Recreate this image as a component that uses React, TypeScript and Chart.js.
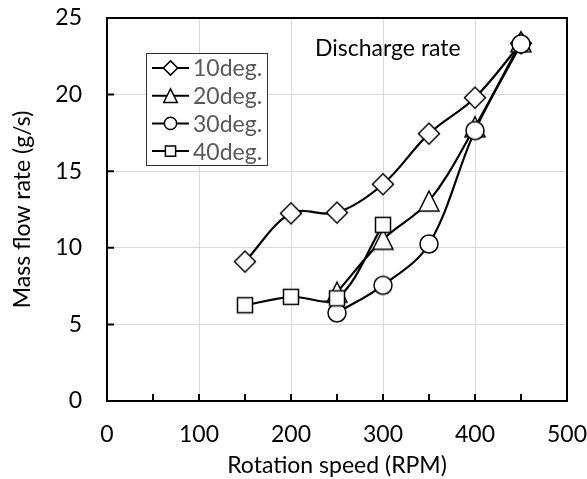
import React, { useEffect, useRef } from "react";
import { Chart, registerables } from "chart.js";

Chart.register(...registerables);

const FONT = "Lato, 'Liberation Sans', sans-serif";
const FS = 23;

// ---- data ----
const seriesNames = ["10deg.", "20deg.", "30deg.", "40deg."];
const speed10 = [150, 200, 250, 300, 350, 400, 450];
const flow10 = [9.1, 12.25, 12.3, 14.15, 17.45, 19.8, 23.35];
const speed20 = [250, 300, 350, 400, 450];
const flow20 = [7.1, 10.55, 13.05, 17.9, 23.45];
const speed30 = [250, 300, 350, 400, 450];
const flow30 = [5.75, 7.55, 10.25, 17.65, 23.3];
const speed40 = [150, 200, 250, 300];
const flow40 = [6.25, 6.8, 6.7, 11.5];
const xTicks = [0, 100, 200, 300, 400, 500];
const yTicks = [0, 5, 10, 15, 20, 25];
const xMinorTicks = [50, 150, 250, 350, 450];
const xTitle = "Rotation speed (RPM)";
const yTitle = "Mass flow rate (g/s)";
const annotationText = "Discharge rate";

const shapes = ["diamond", "triangle", "circle", "square"];

function pathMarker(ctx: CanvasRenderingContext2D, shape: string, x: number, y: number, s: number) {
  ctx.beginPath();
  if (shape === "diamond") {
    const h = 10.5 * s;
    ctx.moveTo(x, y - h);
    ctx.lineTo(x + h, y);
    ctx.lineTo(x, y + h);
    ctx.lineTo(x - h, y);
    ctx.closePath();
  } else if (shape === "triangle") {
    const w = 20 * s, h = 20 * s;
    ctx.moveTo(x, y - h / 2);
    ctx.lineTo(x + w / 2, y + h / 2);
    ctx.lineTo(x - w / 2, y + h / 2);
    ctx.closePath();
  } else if (shape === "circle") {
    ctx.arc(x, y, 9 * s, 0, Math.PI * 2);
  } else {
    const h = 7.5 * s;
    ctx.rect(x - h, y - h, 2 * h, 2 * h);
  }
  ctx.fillStyle = "#ffffff";
  ctx.fill();
  ctx.strokeStyle = "#000000";
  ctx.lineWidth = 1.5;
  ctx.stroke();
}

function makeMarker(shape: string): HTMLCanvasElement {
  const c = document.createElement("canvas");
  c.width = 28;
  c.height = 28;
  const ctx = c.getContext("2d")!;
  pathMarker(ctx, shape, 14, 14, 1);
  return c;
}

const framePlugin = {
  id: "frame",
  beforeDatasetsDraw(chart: any) {
    const { ctx, chartArea } = chart;
    const { left, right, top, bottom } = chartArea;
    const xs = chart.scales.x;
    const ys = chart.scales.y;
    ctx.save();
    ctx.strokeStyle = "#000";
    ctx.lineWidth = 2;
    ctx.strokeRect(left, top, right - left, bottom - top);
    ctx.beginPath();
    [...xTicks, ...xMinorTicks].forEach((v) => {
      const px = xs.getPixelForValue(v);
      ctx.moveTo(px, bottom);
      ctx.lineTo(px, bottom - 7);
    });
    yTicks.forEach((v) => {
      const py = ys.getPixelForValue(v);
      ctx.moveTo(left, py);
      ctx.lineTo(left + 7, py);
    });
    ctx.stroke();
    ctx.restore();
  },
};

const legendPlugin = {
  id: "customLegend",
  afterDraw(chart: any) {
    const { ctx } = chart;
    ctx.save();
    // annotation
    ctx.font = `${FS}px ${FONT}`;
    ctx.fillStyle = "#000";
    ctx.textAlign = "left";
    ctx.textBaseline = "middle";
    ctx.fillText(annotationText, 315, 49);
    // legend box
    ctx.fillStyle = "#fff";
    ctx.fillRect(146.5, 53.5, 121, 112);
    ctx.strokeStyle = "#333";
    ctx.lineWidth = 1;
    ctx.strokeRect(146.5, 53.5, 121, 112);
    seriesNames.forEach((name, i) => {
      const y = 68 + i * 27.7;
      ctx.beginPath();
      ctx.strokeStyle = "#000";
      ctx.lineWidth = 2;
      ctx.moveTo(152, y);
      ctx.lineTo(189, y);
      ctx.stroke();
      pathMarker(ctx, shapes[i], 170.5, y, 0.68);
      ctx.font = `${FS}px ${FONT}`;
      ctx.fillStyle = "#595959";
      ctx.textAlign = "left";
      ctx.textBaseline = "middle";
      ctx.fillText(name, 193, y + 1);
    });
    ctx.restore();
  },
};

function toPoints(xs: number[], ys: number[]) {
  return xs.map((x, i) => ({ x, y: ys[i] }));
}

function zeroPad(s: any) {
  s.paddingTop = 0;
  s.paddingBottom = 0;
  s.paddingLeft = 0;
  s.paddingRight = 0;
}

export default function App() {
  const ref = useRef<HTMLCanvasElement>(null);
  useEffect(() => {
    if (!ref.current) return;
    const markers = shapes.map(makeMarker);
    const allX = [speed10, speed20, speed30, speed40];
    const allY = [flow10, flow20, flow30, flow40];
    const datasets = seriesNames.map((name, i) => ({
      label: name,
      data: toPoints(allX[i], allY[i]),
      borderColor: "#000",
      borderWidth: 2.2,
      backgroundColor: "#fff",
      pointStyle: markers[i],
      pointRadius: 10,
      tension: 0.35,
      order: 4 - i,
      fill: false,
    }));
    const chart = new Chart(ref.current, {
      type: "line",
      data: { datasets },
      options: {
        animation: false,
        responsive: false,
        layout: { padding: { top: 18, right: 20, left: 0, bottom: 0 } },
        plugins: { legend: { display: false }, tooltip: { enabled: false } },
        scales: {
          x: {
            type: "linear",
            min: 0,
            max: 500,
            afterFit: (s: any) => {
              s.height = 78;
              zeroPad(s);
            },
            afterBuildTicks: (s: any) => {
              s.ticks = xTicks.map((v) => ({ value: v }));
            },
            ticks: { color: "#000", font: { family: FONT, size: FS }, padding: 20, maxRotation: 0 },
            grid: { color: "#d9d9d9", lineWidth: 1, drawTicks: false },
            border: { display: false },
            title: {
              display: true,
              text: xTitle,
              color: "#000",
              font: { family: FONT, size: FS },
              padding: { top: 0, bottom: 0 },
            },
          },
          y: {
            type: "linear",
            min: 0,
            max: 25,
            afterFit: (s: any) => {
              s.width = 107;
              zeroPad(s);
            },
            afterBuildTicks: (s: any) => {
              s.ticks = yTicks.map((v) => ({ value: v }));
            },
            ticks: { color: "#000", font: { family: FONT, size: FS }, padding: 25 },
            grid: { color: "#d9d9d9", lineWidth: 1, drawTicks: false },
            border: { display: false },
            title: {
              display: true,
              text: yTitle,
              color: "#000",
              font: { family: FONT, size: FS },
              padding: { top: 9, bottom: 0 },
            },
          },
        },
      } as any,
      plugins: [framePlugin, legendPlugin],
    });
    return () => chart.destroy();
  }, []);
  return (
    <div style={{ position: "absolute", left: 0, top: 0, width: 587, height: 479, background: "#fff" }}>
      <canvas ref={ref} width={587} height={479} style={{ display: "block" }} />
    </div>
  );
}
